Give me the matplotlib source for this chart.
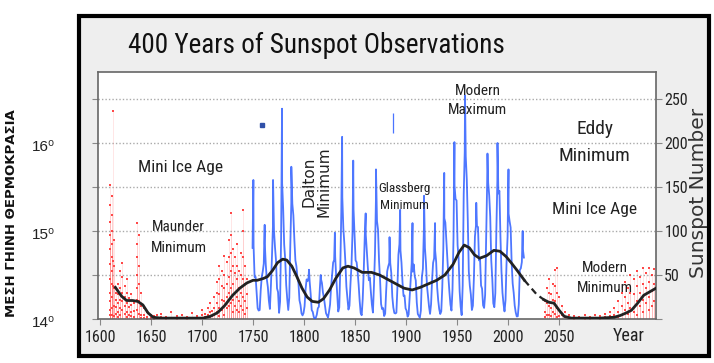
import matplotlib
matplotlib.use("Agg")
import matplotlib.pyplot as plt
from matplotlib.patches import Rectangle
from matplotlib import font_manager
import logging
logging.getLogger('matplotlib.font_manager').setLevel(logging.ERROR)

names = sorted(set(f.name for f in font_manager.fontManager.ttflist))
cands = ['Liberation Sans Narrow', 'DejaVu Sans Condensed', 'Roboto Condensed', 'Open Sans Condensed',
         'Noto Sans Condensed', 'Arial Narrow']
NARROW = [c for c in cands if c in names][:1] + ['Liberation Sans', 'DejaVu Sans']

# yearly sunspot numbers 1749-2015
spot_start = 1749
spots = [80.9, 83.4, 47.7, 47.8, 30.7, 12.2, 9.6, 10.2, 32.4, 47.6, 54.0, 62.9, 85.9, 61.2, 45.1, 36.4,
         20.9, 11.4, 37.8, 69.8, 106.1, 100.8, 81.6, 66.5, 34.8, 30.6, 7.0, 19.8, 92.5, 154.4, 125.9, 84.8,
         68.1, 38.5, 22.8, 10.2, 24.1, 82.9, 132.0, 130.9, 118.1, 89.9, 66.6, 60.0, 46.9, 41.0, 21.3, 16.0,
         6.4, 4.1, 6.8, 14.5, 34.0, 45.0, 43.1, 47.5, 42.2, 28.1, 10.1, 8.1, 2.5, 0.0, 1.4, 5.0, 12.2, 13.9,
         35.4, 45.8, 41.0, 30.1, 23.9, 15.6, 6.6, 4.0, 1.8, 8.5, 16.6, 36.3, 49.6, 64.2, 67.0, 70.9, 47.8,
         27.5, 8.5, 13.2, 56.9, 121.5, 138.3, 103.2, 85.7, 64.6, 36.7, 24.2, 10.7, 15.0, 40.1, 61.5, 98.5,
         124.7, 96.3, 66.6, 64.5, 54.1, 39.0, 20.6, 6.7, 4.3, 22.7, 54.8, 93.8, 95.8, 77.2, 59.1, 44.0, 47.0,
         30.5, 16.3, 7.3, 37.6, 74.0, 139.0, 111.2, 101.6, 66.2, 44.7, 17.0, 11.3, 12.4, 3.4, 6.0, 32.3,
         54.3, 59.7, 63.7, 63.5, 52.2, 25.4, 13.1, 6.8, 6.3, 7.1, 35.6, 73.0, 85.1, 78.0, 64.0, 41.8, 26.2,
         26.7, 12.1, 9.5, 2.7, 5.0, 24.4, 42.0, 63.5, 53.8, 62.0, 48.5, 43.9, 18.6, 5.7, 3.6, 1.4, 9.6, 47.4,
         57.1, 103.9, 80.6, 63.6, 37.6, 26.1, 14.2, 5.8, 16.7, 44.3, 63.9, 69.0, 77.8, 64.9, 35.7, 21.2,
         11.1, 5.7, 8.7, 36.1, 79.7, 114.4, 109.6, 88.8, 67.8, 47.5, 30.6, 16.3, 9.6, 33.2, 92.6, 151.6,
         136.3, 134.7, 83.9, 69.4, 31.5, 13.9, 4.4, 38.0, 141.7, 190.2, 184.8, 159.0, 112.3, 53.9, 37.6,
         27.9, 10.2, 15.1, 47.0, 93.8, 105.9, 105.5, 104.5, 66.6, 68.9, 38.0, 34.5, 15.5, 12.6, 27.5, 92.5,
         155.4, 154.6, 140.4, 115.9, 66.6, 45.9, 17.9, 13.4, 29.4, 100.2, 157.6, 142.6, 145.7, 94.3, 54.6,
         29.9, 17.5, 8.6, 21.5, 64.3, 93.3, 119.6, 111.0, 104.0, 63.7, 40.4, 29.8, 15.2, 7.5, 2.9, 3.1,
         16.5, 55.7, 57.6, 64.7, 79.3, 69.8]

# monthly peaks of each cycle
peak_years = [1750.3, 1761.4, 1769.6, 1778.4, 1787.5, 1804.8, 1816.3, 1830.2, 1837.3, 1848.2, 1860.4,
              1870.5, 1883.8, 1894.2, 1906.3, 1917.6, 1928.4, 1937.4, 1947.4, 1957.8, 1968.8, 1979.8,
              1989.6, 2000.4, 2014.3]
peak_spots = [158, 107, 158, 239, 173, 56, 50, 98, 207, 180, 120, 170, 93, 124, 109, 140, 109, 166,
              201, 254, 132, 188, 200, 170, 100]

# smoothed temperature curve (plotted on the sunspot scale)
temp_years = [1615, 1621, 1626, 1632, 1637, 1642, 1647, 1652, 1660, 1675, 1690, 1701, 1708, 1715, 1722,
              1730, 1737, 1744, 1750, 1754, 1760, 1764, 1769, 1774, 1779, 1783, 1788, 1793, 1798, 1803,
              1808, 1814, 1819, 1825, 1831, 1838, 1843, 1849, 1857, 1866, 1874, 1882, 1890, 1898, 1906,
              1914, 1922, 1930, 1938, 1946, 1952, 1957, 1962, 1967, 1972, 1979, 1986, 1992, 1998, 2003,
              2009, 2016]
temp_vals = [36, 26, 21, 21, 20, 16, 7, 2, 1, 1, 1, 1, 3, 7, 15, 27, 35, 41, 44, 44, 46, 48, 55, 64,
             68, 67, 60, 48, 35, 25, 20, 19, 23, 33, 46, 58, 60, 58, 53, 53, 50, 45, 40, 35, 33, 36, 40,
             44, 50, 62, 76, 84, 81, 73, 69, 72, 78, 77, 71, 64, 55, 44]
dash_years = [2016, 2022, 2028, 2035]
dash_vals = [44, 36, 28, 22]
future_years = [2035, 2040, 2045, 2050, 2055, 2062, 2075, 2090, 2104, 2110, 2116, 2121, 2127, 2133,
                2139, 2145]
future_vals = [22, 19, 18, 10, 3, 1, 1, 1, 2, 4, 7, 10, 18, 27, 31, 35]

# historical / projected sunspot counts (red marks)
early_years = [1610, 1612, 1613, 1614, 1616, 1618, 1620, 1622, 1624, 1626, 1628, 1630, 1633, 1636, 1638,
               1640, 1643, 1646, 1650, 1653, 1656, 1660, 1665, 1670, 1675, 1680, 1685, 1690, 1695, 1700,
               1703, 1706, 1708, 1710, 1712, 1715, 1717, 1720, 1722, 1724, 1726, 1728, 1730, 1732, 1734,
               1736, 1738, 1740, 1742, 1744]
early_spots = [[152, 130, 110, 95, 80, 62, 45, 30, 20, 10, 4], [140, 118, 100, 85, 70, 55, 40, 25, 12, 5],
               [236, 66, 38], [90, 60, 35, 15, 3], [30, 22, 14, 6], [40, 28, 18, 8, 2],
               [55, 35, 22, 12, 4], [64, 48, 30, 20, 10], [38, 25, 15, 6], [45, 30, 18, 8, 2],
               [24, 14, 5], [28, 16, 8, 3], [18, 9, 2], [109, 85, 70, 50, 35, 22, 10], [95, 60, 40, 20, 6],
               [30, 15, 5, 1], [12, 4, 1], [8, 2, 0], [5, 1, 0], [3, 0], [4, 1], [6, 2], [2, 0], [8, 1],
               [3, 0], [5, 1], [2, 0], [7, 1], [3, 1], [10, 4, 1], [6, 2], [12, 5], [18, 8, 2], [9, 3],
               [25, 12, 4], [42, 30, 18, 8], [60, 45, 28, 12, 3], [55, 38, 22, 10], [72, 50, 35, 20, 5],
               [65, 40, 25, 12], [90, 70, 48, 30, 15], [120, 95, 75, 55, 35, 18], [80, 60, 40, 22, 8],
               [70, 52, 30, 15], [85, 60, 45, 25, 10], [55, 35, 20, 8], [75, 50, 30, 15],
               [124, 100, 70, 45, 25, 10], [60, 40, 20, 6], [45, 28, 12]]
late_years = [2036, 2038, 2040, 2042, 2044, 2046, 2048, 2050, 2053, 2056, 2060, 2065, 2070, 2075, 2080,
              2085, 2090, 2095, 2100, 2104, 2108, 2112, 2115, 2118, 2120, 2123, 2126, 2129, 2132, 2135,
              2138, 2141, 2143]
late_spots = [[20, 8, 2], [35, 18, 5], [46, 30, 15, 4], [28, 12, 3], [40, 22, 8], [56, 38, 20, 6],
              [58, 30, 12, 2], [25, 10, 3], [15, 5], [8, 2], [5, 1], [3, 0], [2, 1], [4, 0], [2, 0],
              [5, 1], [3, 0], [6, 2], [8, 3], [12, 4], [20, 8, 2], [30, 15, 5], [42, 25, 10], [35, 18, 6],
              [50, 30, 12], [45, 28, 8], [55, 38, 20, 5], [48, 30, 15], [58, 40, 22, 8], [52, 35, 18],
              [58, 42, 25, 10], [50, 32, 15], [57, 40, 20]]

grid_levels = [50, 100, 150, 200, 250]
year_ticks = [1600, 1650, 1700, 1750, 1800, 1850, 1900, 1950, 2000, 2050]
temp_labels = ['14⁰', '15⁰', '16⁰']
temp_levels = [0, 100, 200]

W, H = 714, 363
fig = plt.figure(figsize=(W / 100, H / 100), dpi=100)
fig.patches.append(Rectangle((79 / W, 1 - 356 / H), 630 / W, 340 / H, transform=fig.transFigure,
                             facecolor='#eeeeee', edgecolor='black', lw=3, zorder=-5))

ax = fig.add_axes([98 / W, 1 - 319 / H, 558 / W, 247 / H], zorder=2)
ax.set_xlim(1598, 2145)
ax.set_ylim(0, 280.7)

for g in grid_levels:
    ax.axhline(g, color='#aaaaaa', lw=1, linestyle=(0, (1, 1.5)), zorder=1)

# red marks
ex, ey = [], []
for yr, vals in zip(early_years, early_spots):
    ex += [yr] * len(vals)
    ey += vals
lx, ly = [], []
for yr, vals in zip(late_years, late_spots):
    lx += [yr] * len(vals)
    ly += vals
ax.plot(ex + lx, ey + ly, 's', color='#ff1a1a', ms=1.9, mew=0, alpha=0.8, zorder=2)
ax.vlines(ex + lx, 0, ey + ly, color='#ff5050', lw=0.5, alpha=0.2, zorder=2)

# blue sunspot record with monthly peaks merged in
pts = [(spot_start + i + 0.5, v) for i, v in enumerate(spots)] + list(zip(peak_years, peak_spots))
pts.sort()
ax.plot([p[0] for p in pts], [p[1] for p in pts], color='#2255ff', lw=1.3, alpha=0.8, zorder=3)
ax.plot([1759], [220], 's', color='#3050a8', ms=3.5, zorder=3)
ax.vlines([1887], 211, 234, color='#4a74ff', lw=0.9, zorder=3)

# temperature curve
ax.plot(temp_years, temp_vals, color='#222222', lw=2, zorder=4)
ax.plot(dash_years, dash_vals, color='#222222', lw=1.6, linestyle=(0, (3, 2)), zorder=4)
ax.plot(future_years, future_vals, color='#222222', lw=2, zorder=4)

for s in ax.spines.values():
    s.set_color('#666666')
    s.set_linewidth(1.2)
ax.set_xticks(year_ticks)
ax.set_xticklabels([str(y) for y in year_ticks], family=NARROW, fontsize=11.5, color='#222222')
ax.set_yticks([0] + grid_levels)
ax.set_yticklabels([''] + [str(g) for g in grid_levels], family=NARROW, fontsize=11.5, color='#222222')
ax.tick_params(axis='y', left=True, right=True, labelleft=False, labelright=True,
               length=4, color='#888888', pad=2)
ax.tick_params(axis='x', length=4, color='#888888', pad=4)

ax.text(2118, -9, 'Year', family=NARROW, fontsize=13, ha='center', va='top', color='#222222')
fig.text(698 / W, 1 - 193 / H, 'Sunspot Number', rotation=90, ha='center', va='center',
         fontsize=14.5, color='#333333')
fig.text(128 / W, 1 - 45 / H, '400 Years of Sunspot Observations', family=NARROW, fontsize=19.5,
         ha='left', va='center', color='#111111')

for lab, lev in zip(temp_labels, temp_levels):
    ax.text(-0.097, lev - 4, lab, transform=ax.get_yaxis_transform(), ha='center', va='center',
            family=['Liberation Sans', 'DejaVu Sans'], fontsize=11, color='#222222')
fig.text(12 / W, 1 - 213 / H, 'ΜΕΣΗ ΓΗΙΝΗ ΘΕΡΜΟΚΡΑΣΙΑ', rotation=90, ha='center', va='center',
         fontsize=9.5, fontweight='bold', color='#111111')

notes = [
    (1679, 172, 'Mini Ice Age', 12.5, 0),
    (1677, 104, 'Maunder', 11, 0),
    (1677, 81, 'Minimum', 11, 0),
    (1812, 156, 'Dalton\nMinimum', 11, 90),
    (1898, 148, 'Glassberg', 9.5, 0),
    (1898, 129, 'Minimum', 9.5, 0),
    (1970, 259, 'Modern', 11, 0),
    (1970, 238, 'Maximum', 11, 0),
    (2085, 216, 'Eddy', 14, 0),
    (2085, 185, 'Minimum', 14, 0),
    (2085, 124, 'Mini Ice Age', 12.5, 0),
    (2095, 58, 'Modern', 11, 0),
    (2095, 35, 'Minimum', 11, 0),
]
for x, y, t, fs, rot in notes:
    fam = ['DejaVu Sans'] if rot else NARROW
    ax.text(x, y, t, family=fam, fontsize=fs, rotation=rot, ha='center', va='center',
            color='#222222', zorder=6, linespacing=1.0)

fig.savefig('out.png', dpi=100)
